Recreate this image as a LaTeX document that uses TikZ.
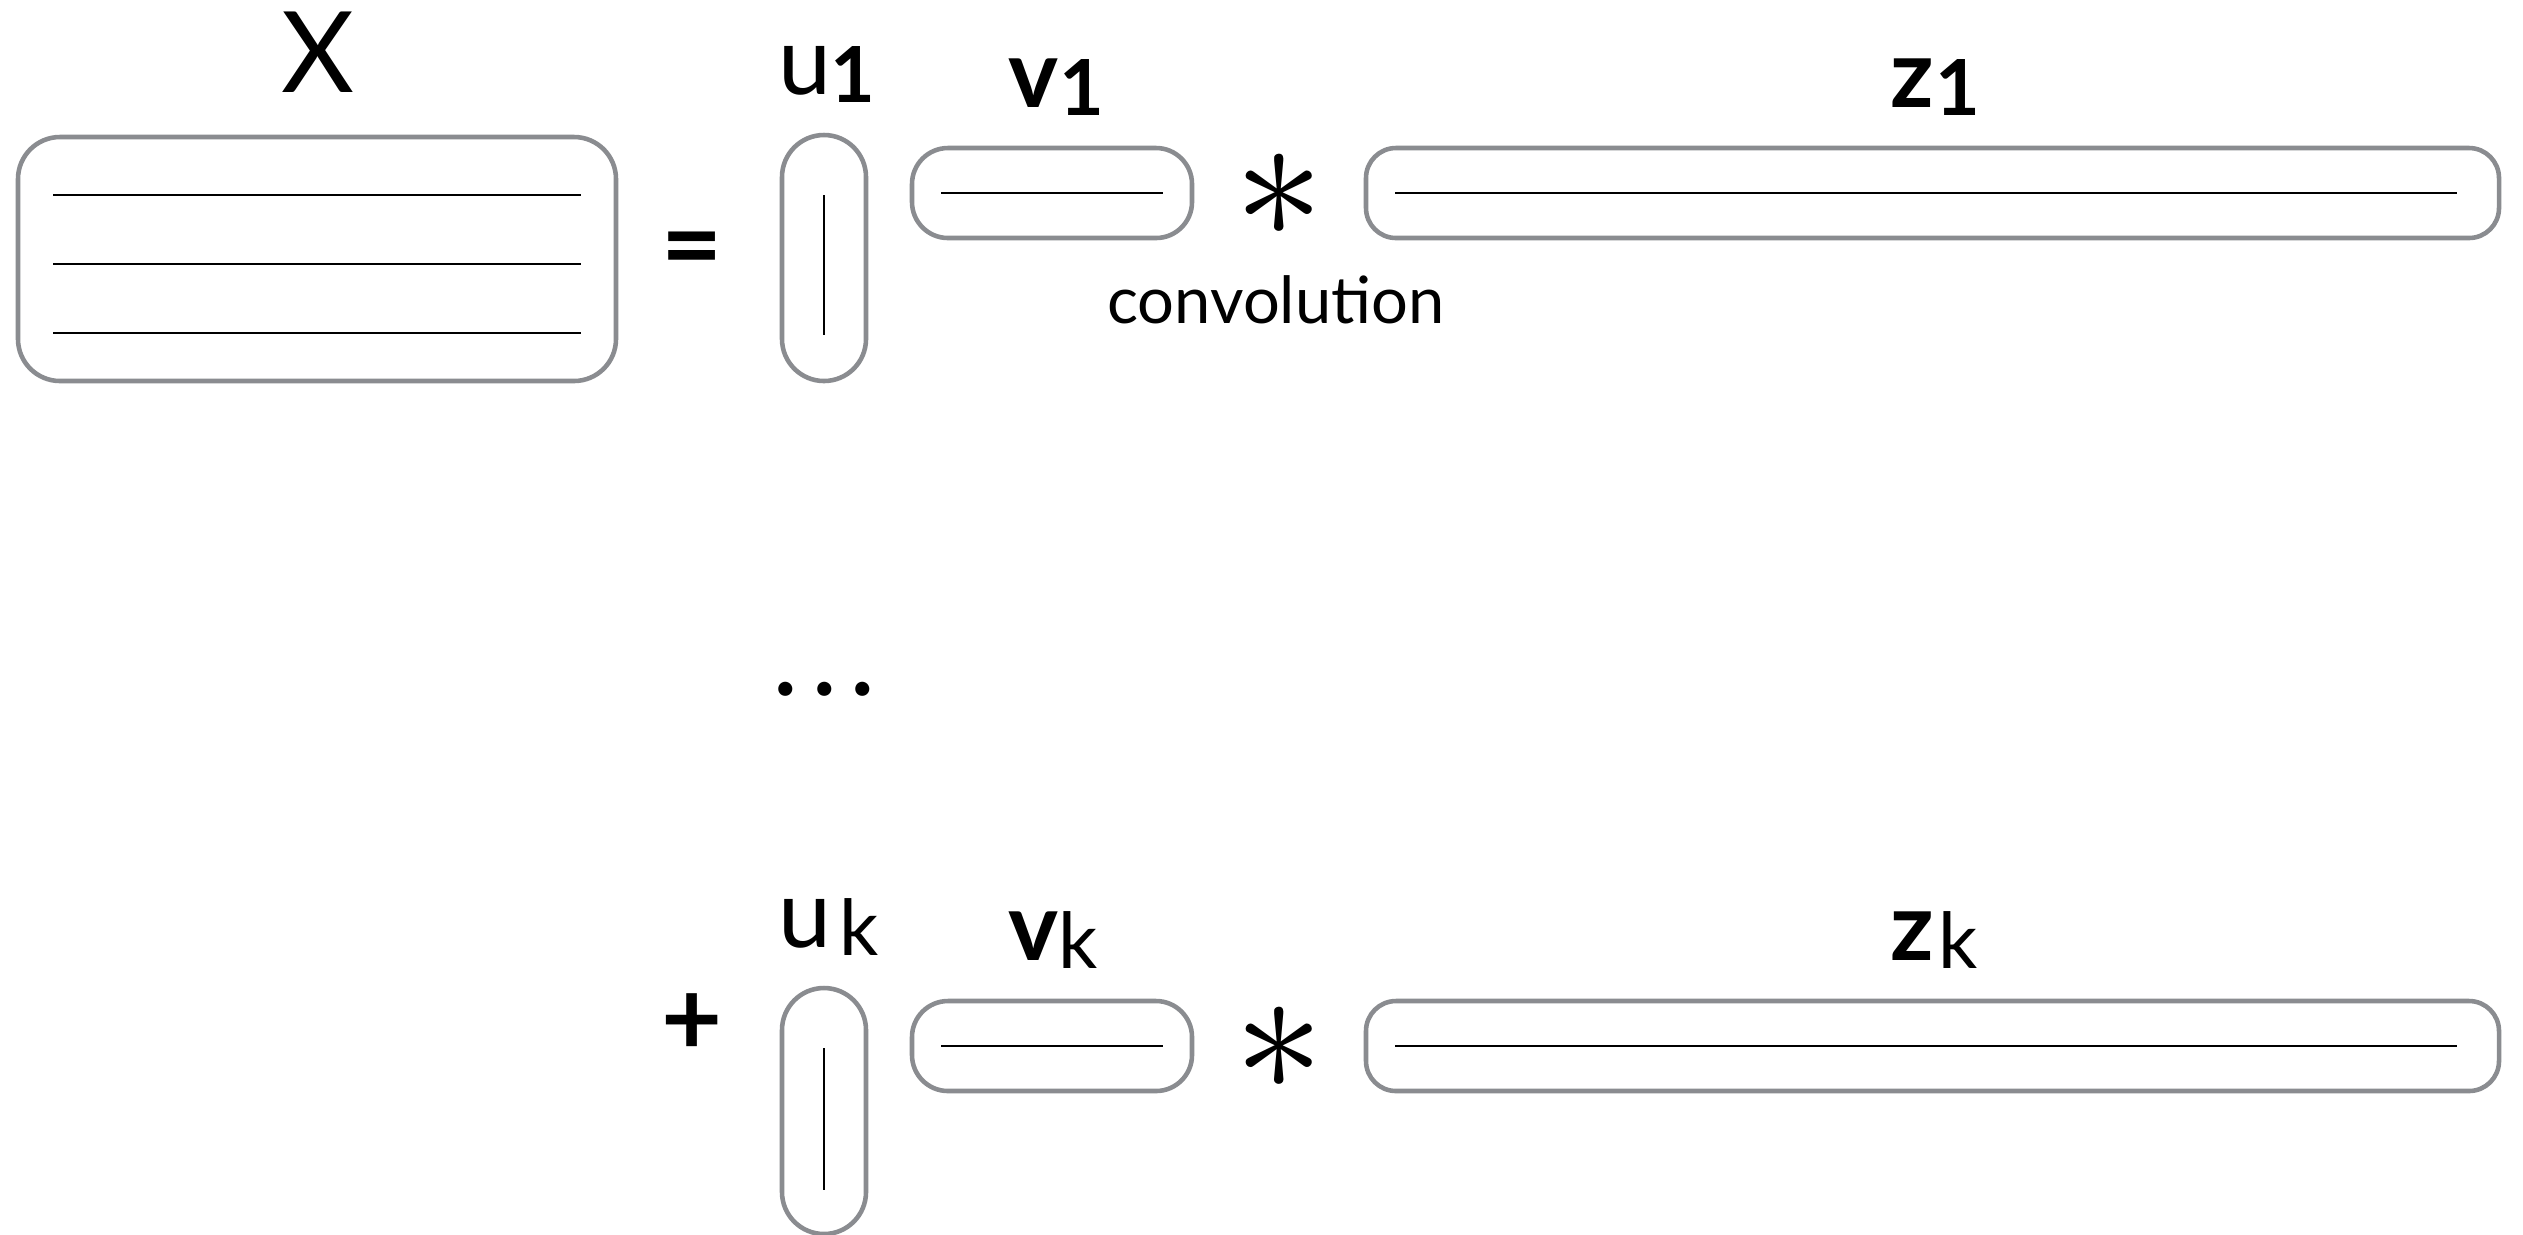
\documentclass[tikz,border=0pt]{standalone}
\usepackage{fontspec}
\setmainfont{Lato}
\definecolor{boxgray}{HTML}{8A8C90}
\newcommand\labsub[3]{\hspace{#1}\raisebox{-0.08cm}{\fontsize{22}{22}\selectfont #2#3}}
\tikzset{
  mat/.style={draw=boxgray, line width=1.3pt, rounded corners=#1, inner sep=0pt, minimum width=0pt},
  mat/.default=0.3cm,
  vec/.style={draw=black, line width=0.8pt},
  vecv/.style={draw=black, line width=0.65pt},
  lab/.style={inner sep=0pt, anchor=base west, font=\fontsize{27}{27}\selectfont},
  opsym/.style={inner sep=0pt, font=\fontsize{30}{30}\selectfont\bfseries},
  astsym/.style={inner sep=0pt},
}
\begin{document}
\begin{tikzpicture}[x=1cm,y=-1cm]
\useasboundingbox[fill=white] (0,0) rectangle (25.23,12.34);

% ---------- X ----------
\node[inner sep=0pt, anchor=base, font=\fontsize{32}{32}\selectfont] (lX) at (3.175,0.92) {X};
\node[mat=0.42cm, minimum width=5.98cm, minimum height=2.44cm] (X) at (3.17,2.59) {};
\draw[vec] (0.53,1.95) -- (5.81,1.95);
\draw[vec] (0.53,2.64) -- (5.81,2.64);
\draw[vec] (0.53,3.33) -- (5.81,3.33);

\node[opsym] (eq) at (6.92,2.57) {=};

% ---------- row 1 ----------
\node[lab] (lu1) at (7.78,0.94) {u\labsub{-0.01cm}{\bfseries}{1}};
\node[mat=0.42cm, minimum width=0.84cm, minimum height=2.46cm] (u1) at (8.24,2.58) {};
\draw[vecv] (8.24,1.95) -- (8.24,3.35);

\node[lab] (lv1) at (10.08,1.07) {\bfseries v\labsub{0.01cm}{\bfseries}{1}};
\node[mat=0.36cm, minimum width=2.80cm, minimum height=0.90cm] (v1) at (10.52,1.93) {};
\draw[vec] (9.41,1.93) -- (11.63,1.93);

\node[astsym] (a1) at (12.79,1.96) {\scalebox{5.1}{$\ast$}};
\node[inner sep=0pt, anchor=base, font=\fontsize{18.5}{18.5}\selectfont] (conv) at (12.76,3.23) {convolution};

\node[lab] (lz1) at (18.90,1.07) {\bfseries z\labsub{0.01cm}{\bfseries}{1}};
\node[mat=0.30cm, minimum width=11.33cm, minimum height=0.90cm] (z1) at (19.325,1.93) {};
\draw[vec] (13.95,1.93) -- (24.57,1.93);

% ---------- dots ----------
\node[inner sep=0pt, font=\fontsize{32}{32}\selectfont] (dots) at (8.245,6.89) {.\hspace{0.12cm}.\hspace{0.12cm}.};

% ---------- row k ----------
\node[opsym] (plus) at (6.92,10.25) {+};

\node[lab] (luk) at (7.78,9.47) {u\labsub{0.08cm}{}{k}};
\node[mat=0.42cm, minimum width=0.84cm, minimum height=2.46cm] (uk) at (8.24,11.11) {};
\draw[vecv] (8.24,10.48) -- (8.24,11.90);

\node[lab] (lvk) at (10.08,9.60) {\bfseries v\labsub{0.00cm}{\mdseries}{k}};
\node[mat=0.36cm, minimum width=2.80cm, minimum height=0.90cm] (vk) at (10.52,10.46) {};
\draw[vec] (9.41,10.46) -- (11.63,10.46);

\node[astsym] (ak) at (12.79,10.49) {\scalebox{5.1}{$\ast$}};

\node[lab] (lzk) at (18.90,9.60) {\bfseries z\labsub{0.04cm}{\mdseries}{k}};
\node[mat=0.30cm, minimum width=11.33cm, minimum height=0.90cm] (zk) at (19.325,10.46) {};
\draw[vec] (13.95,10.46) -- (24.57,10.46);
\end{tikzpicture}
\end{document}
